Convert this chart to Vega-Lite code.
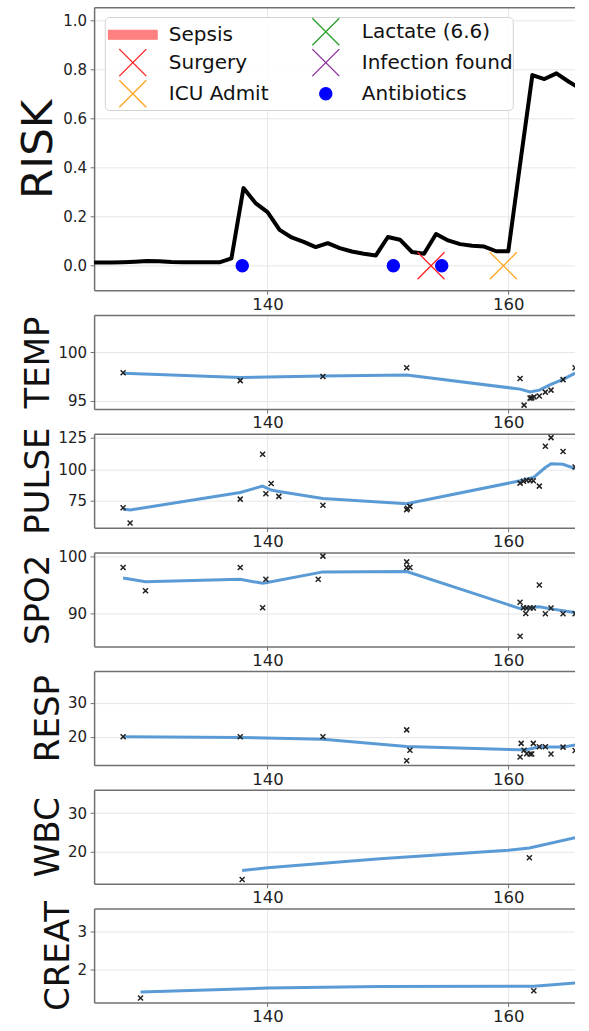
{
  "$schema": "https://vega.github.io/schema/vega-lite/v6.json",
  "padding": {"left": 16.1, "top": 7.3, "right": 0, "bottom": 0},
  "bounds": "flush",
  "spacing": 24.7,
  "config": {
    "view": {"stroke": null},
    "font": "DejaVu Sans",
    "axis": {
      "labelFont": "DejaVu Sans", "titleFont": "DejaVu Sans", "titleFontWeight": "normal",
      "labelColor": "#222222", "titleColor": "#111111",
      "gridColor": "#e6e6e6", "gridWidth": 1,
      "domainColor": "#707070", "domainWidth": 1.5,
      "tickColor": "#707070", "tickSize": 4, "tickWidth": 1
    },
    "axisX": {"labelFontSize": 16.5, "labelPadding": 2},
    "axisY": {"labelFontSize": 15, "labelPadding": 3.5, "titlePadding": 2, "titleFontSize": 34}
  },
  "datasets": {
    "risk": [
      {"t": 125, "v": 0.013}, {"t": 126, "v": 0.013}, {"t": 127, "v": 0.013}, {"t": 128, "v": 0.014},
      {"t": 129, "v": 0.016}, {"t": 130, "v": 0.019}, {"t": 131, "v": 0.018}, {"t": 132, "v": 0.015},
      {"t": 133, "v": 0.014}, {"t": 134, "v": 0.014}, {"t": 135, "v": 0.014}, {"t": 136, "v": 0.014},
      {"t": 137, "v": 0.03}, {"t": 138, "v": 0.316}, {"t": 139, "v": 0.255}, {"t": 140, "v": 0.218},
      {"t": 141, "v": 0.146}, {"t": 142, "v": 0.115}, {"t": 143, "v": 0.097}, {"t": 144, "v": 0.076},
      {"t": 145, "v": 0.092}, {"t": 146, "v": 0.072}, {"t": 147, "v": 0.058}, {"t": 148, "v": 0.049},
      {"t": 149, "v": 0.042}, {"t": 150, "v": 0.117}, {"t": 151, "v": 0.106}, {"t": 152, "v": 0.056},
      {"t": 153, "v": 0.049}, {"t": 154, "v": 0.129}, {"t": 155, "v": 0.103}, {"t": 156, "v": 0.088},
      {"t": 157, "v": 0.081}, {"t": 158, "v": 0.078}, {"t": 159, "v": 0.059}, {"t": 160, "v": 0.059},
      {"t": 161, "v": 0.42}, {"t": 162, "v": 0.776}, {"t": 163, "v": 0.76}, {"t": 164, "v": 0.783},
      {"t": 165, "v": 0.75}, {"t": 166, "v": 0.72}
    ],
    "events": [
      {"t": 137.9, "v": 0, "event": "Antibiotics"},
      {"t": 150.45, "v": 0, "event": "Antibiotics"},
      {"t": 153.58, "v": 0, "event": "Surgery"},
      {"t": 154.47, "v": 0, "event": "Antibiotics"},
      {"t": 159.59, "v": 0, "event": "ICU Admit"}
    ],
    "temp_obs": [
      {"t": 128.0, "v": 97.9}, {"t": 137.73, "v": 97.08}, {"t": 144.6, "v": 97.5}, {"t": 151.56, "v": 98.4},
      {"t": 160.98, "v": 97.3}, {"t": 161.31, "v": 94.55}, {"t": 161.81, "v": 95.27}, {"t": 161.95, "v": 95.3},
      {"t": 162.14, "v": 95.4}, {"t": 162.58, "v": 95.5}, {"t": 163.08, "v": 95.89}, {"t": 163.55, "v": 96.1},
      {"t": 164.55, "v": 97.18}, {"t": 165.55, "v": 98.4}
    ],
    "temp_fit": [
      {"t": 128.0, "v": 97.85}, {"t": 137.73, "v": 97.4}, {"t": 140, "v": 97.45}, {"t": 144.6, "v": 97.55},
      {"t": 151.56, "v": 97.65}, {"t": 160.98, "v": 96.2}, {"t": 161.81, "v": 95.9}, {"t": 162.58, "v": 96.1},
      {"t": 163.08, "v": 96.4}, {"t": 163.55, "v": 96.7}, {"t": 164.55, "v": 97.2}, {"t": 165.55, "v": 97.85}
    ],
    "pulse_obs": [
      {"t": 128.0, "v": 69.5}, {"t": 128.58, "v": 57.4}, {"t": 137.73, "v": 76.3}, {"t": 139.59, "v": 111.8},
      {"t": 139.86, "v": 80.5}, {"t": 140.3, "v": 88.7}, {"t": 140.94, "v": 78.5}, {"t": 144.6, "v": 71.4},
      {"t": 151.56, "v": 67.9}, {"t": 151.62, "v": 69}, {"t": 151.83, "v": 70.6}, {"t": 160.98, "v": 89},
      {"t": 161.26, "v": 90.5}, {"t": 161.53, "v": 91.3}, {"t": 161.81, "v": 91}, {"t": 162.08, "v": 90.8},
      {"t": 162.58, "v": 86.6}, {"t": 163.08, "v": 118.1}, {"t": 163.55, "v": 125}, {"t": 164.55, "v": 114},
      {"t": 165.55, "v": 101.8}
    ],
    "pulse_fit": [
      {"t": 128.0, "v": 68.5}, {"t": 128.58, "v": 67.7}, {"t": 137.73, "v": 81.6}, {"t": 139.59, "v": 86.6},
      {"t": 140.3, "v": 83.5}, {"t": 140.94, "v": 82.4}, {"t": 144.6, "v": 76.9}, {"t": 151.56, "v": 72.6},
      {"t": 160.98, "v": 90.8}, {"t": 162.08, "v": 93.4}, {"t": 163.08, "v": 101.3}, {"t": 163.55, "v": 104.3},
      {"t": 164.55, "v": 103.9}, {"t": 165.55, "v": 100.5}
    ],
    "spo2_obs": [
      {"t": 128.0, "v": 98.07}, {"t": 129.86, "v": 94.0}, {"t": 137.73, "v": 98.07}, {"t": 139.59, "v": 91.05},
      {"t": 139.86, "v": 96.0}, {"t": 144.21, "v": 96.0}, {"t": 144.6, "v": 100.05}, {"t": 151.56, "v": 99.05},
      {"t": 151.56, "v": 98.07}, {"t": 151.83, "v": 98.07}, {"t": 160.98, "v": 92.0}, {"t": 160.98, "v": 86.07},
      {"t": 161.26, "v": 91.05}, {"t": 161.45, "v": 90.05}, {"t": 161.53, "v": 91}, {"t": 161.81, "v": 91},
      {"t": 162.08, "v": 91}, {"t": 162.58, "v": 95.0}, {"t": 163.08, "v": 90}, {"t": 163.55, "v": 91},
      {"t": 164.55, "v": 90}, {"t": 165.55, "v": 90}
    ],
    "spo2_fit": [
      {"t": 128.0, "v": 96.25}, {"t": 129.86, "v": 95.6}, {"t": 137.73, "v": 96.0}, {"t": 139.59, "v": 95.3},
      {"t": 139.86, "v": 95.4}, {"t": 144.6, "v": 97.3}, {"t": 151.56, "v": 97.37}, {"t": 160.98, "v": 90.9},
      {"t": 161.81, "v": 91.1}, {"t": 162.58, "v": 91.2}, {"t": 163.55, "v": 90.85}, {"t": 165.55, "v": 90.2}
    ],
    "resp_obs": [
      {"t": 128.0, "v": 20}, {"t": 137.73, "v": 20}, {"t": 144.6, "v": 20}, {"t": 151.56, "v": 22.03},
      {"t": 151.83, "v": 16.1}, {"t": 151.56, "v": 13.0}, {"t": 160.98, "v": 14.1}, {"t": 161.07, "v": 18.1},
      {"t": 161.31, "v": 16.1}, {"t": 161.53, "v": 15.06}, {"t": 161.81, "v": 15}, {"t": 161.95, "v": 15},
      {"t": 162.08, "v": 18.1}, {"t": 162.58, "v": 17.1}, {"t": 163.08, "v": 17.1}, {"t": 163.55, "v": 15},
      {"t": 164.55, "v": 17}, {"t": 165.55, "v": 16}
    ],
    "resp_fit": [
      {"t": 128.0, "v": 20.0}, {"t": 137.73, "v": 19.8}, {"t": 144.6, "v": 19.3}, {"t": 151.56, "v": 17.2},
      {"t": 160.98, "v": 16.2}, {"t": 161.53, "v": 16.3}, {"t": 162.58, "v": 17.0}, {"t": 164.55, "v": 17.0},
      {"t": 165.55, "v": 17.6}
    ],
    "wbc_obs": [{"t": 137.89, "v": 12.77}, {"t": 161.75, "v": 18.43}],
    "wbc_fit": [
      {"t": 137.89, "v": 15.1}, {"t": 140, "v": 15.8}, {"t": 149.34, "v": 18.17}, {"t": 160, "v": 20.4},
      {"t": 161.75, "v": 20.95}, {"t": 165.55, "v": 23.65}
    ],
    "creat_obs": [{"t": 129.45, "v": 1.23}, {"t": 162.12, "v": 1.42}],
    "creat_fit": [
      {"t": 129.45, "v": 1.39}, {"t": 140, "v": 1.495}, {"t": 149.34, "v": 1.537}, {"t": 162.12, "v": 1.54},
      {"t": 165.55, "v": 1.63}
    ]
  },
  "vconcat": [
    {
      "width": 481, "height": 283,
      "layer": [
        {
          "data": {"name": "risk"},
          "mark": {"type": "line", "color": "#000000", "strokeWidth": 4, "strokeJoin": "round", "clip": true},
          "encoding": {
            "x": {"field": "t", "type": "quantitative", "scale": {"domain": [125.59, 165.55], "nice": false, "zero": false},
                  "axis": {"orient": "bottom", "values": [140, 160], "format": "d", "title": null, "grid": true}},
            "y": {"field": "v", "type": "quantitative", "scale": {"domain": [-0.1, 1.052], "nice": false, "zero": false},
                  "axis": {"orient": "left", "values": [0, 0.2, 0.4, 0.6, 0.8, 1.0], "format": ".1f", "title": "RISK", "titleFontSize": 43.5, "grid": true}}
          }
        },
        {
          "data": {"name": "events"},
          "mark": {"type": "point", "filled": false, "strokeWidth": 1.3, "opacity": 1, "size": 729, "clip": true},
          "encoding": {
            "x": {"field": "t", "type": "quantitative", "scale": {"domain": [125.59, 165.55], "nice": false, "zero": false},
                  "axis": {"orient": "top", "labels": false, "ticks": false, "grid": false, "domain": true, "title": null}},
            "y": {"field": "v", "type": "quantitative", "scale": {"domain": [-0.1, 1.052], "nice": false, "zero": false},
                  "axis": {"orient": "left", "values": [0, 0.2, 0.4, 0.6, 0.8, 1.0], "format": ".1f", "title": "RISK", "titleFontSize": 43.5, "grid": true}},
            "color": {"field": "event", "type": "nominal",
              "scale": {"domain": ["Sepsis", "Surgery", "ICU Admit", "Lactate (6.6)", "Infection found", "Antibiotics"],
                        "range": ["#ff8080", "#ff2020", "#ffa520", "#2ca02c", "#8b2c9b", "#0000ff"]},
              "legend": {
                "orient": "none", "legendX": 10.7, "legendY": 9.7, "columns": 2, "title": null,
                "labelFont": "DejaVu Sans", "labelFontSize": 20, "labelColor": "#111111",
                "symbolSize": 729, "symbolStrokeWidth": 1.3, "symbolOffset": 13.5, "labelOffset": 21.5,
                "rowPadding": -1.9, "columnPadding": 29, "padding": 0,
                "strokeColor": "#d4d4d4", "fillColor": "rgba(255,255,255,0.85)", "cornerRadius": 4,
                "encode": {"symbols": {"update": {"fill": {"scale": "fill", "field": "value"}, "stroke": {"scale": "color", "field": "value"}}}}
              }},
            "fill": {"field": "event", "type": "nominal", "legend": null,
              "scale": {"domain": ["Sepsis", "Surgery", "ICU Admit", "Lactate (6.6)", "Infection found", "Antibiotics"],
                        "range": ["#ff8080", "#ff2020", "#ffa520", "#2ca02c", "#8b2c9b", "#0000ff"]}},
            "shape": {"field": "event", "type": "nominal",
              "scale": {"domain": ["Sepsis", "Surgery", "ICU Admit", "Lactate (6.6)", "Infection found", "Antibiotics"],
                        "range": [
                          "M-1.8,-0.33L1.8,-0.33L1.8,0.33L-1.8,0.33Z",
                          "M-1,-1L1,1M-1,1L1,-1",
                          "M-1,-1L1,1M-1,1L1,-1",
                          "M-1,-1L1,1M-1,1L1,-1",
                          "M-1,-1L1,1M-1,1L1,-1",
                          "M-0.45,0A0.45,0.45,0,1,0,0.45,0A0.45,0.45,0,1,0,-0.45,0Z"
                        ]}}
          }
        }
      ]
    },
    {
      "width": 481, "height": 94,
      "layer": [
        {"data": {"name": "temp_fit"},
         "mark": {"type": "line", "color": "#5b9bd5", "strokeWidth": 3, "clip": true},
         "encoding": {
           "x": {"field": "t", "type": "quantitative", "scale": {"domain": [125.59, 165.55], "nice": false, "zero": false},
                 "axis": {"orient": "bottom", "values": [140, 160], "format": "d", "title": null, "grid": true}},
           "y": {"field": "v", "type": "quantitative", "scale": {"domain": [94.15, 103.85], "nice": false, "zero": false},
                 "axis": {"orient": "left", "values": [95, 100], "title": "TEMP", "grid": true}}}},
        {"data": {"name": "temp_obs"},
         "mark": {"type": "point", "shape": "M-1,-1L1,1M-1,1L1,-1", "size": 25, "filled": false, "color": "#222222", "strokeWidth": 1.5, "opacity": 1, "clip": true},
         "encoding": {
           "x": {"field": "t", "type": "quantitative", "scale": {"domain": [125.59, 165.55], "nice": false, "zero": false},
                 "axis": {"orient": "top", "labels": false, "ticks": false, "grid": false, "domain": true, "title": null}},
           "y": {"field": "v", "type": "quantitative", "scale": {"domain": [94.15, 103.85], "nice": false, "zero": false},
                 "axis": {"orient": "left", "values": [95, 100], "title": "TEMP", "grid": true}}}}
      ]
    },
    {
      "width": 481, "height": 94,
      "layer": [
        {"data": {"name": "pulse_fit"},
         "mark": {"type": "line", "color": "#5b9bd5", "strokeWidth": 3, "clip": true},
         "encoding": {
           "x": {"field": "t", "type": "quantitative", "scale": {"domain": [125.59, 165.55], "nice": false, "zero": false},
                 "axis": {"orient": "bottom", "values": [140, 160], "format": "d", "title": null, "grid": true}},
           "y": {"field": "v", "type": "quantitative", "scale": {"domain": [53.7, 128.1], "nice": false, "zero": false},
                 "axis": {"orient": "left", "values": [75, 100, 125], "title": "PULSE", "grid": true}}}},
        {"data": {"name": "pulse_obs"},
         "mark": {"type": "point", "shape": "M-1,-1L1,1M-1,1L1,-1", "size": 25, "filled": false, "color": "#222222", "strokeWidth": 1.5, "opacity": 1, "clip": true},
         "encoding": {
           "x": {"field": "t", "type": "quantitative", "scale": {"domain": [125.59, 165.55], "nice": false, "zero": false},
                 "axis": {"orient": "top", "labels": false, "ticks": false, "grid": false, "domain": true, "title": null}},
           "y": {"field": "v", "type": "quantitative", "scale": {"domain": [53.7, 128.1], "nice": false, "zero": false},
                 "axis": {"orient": "left", "values": [75, 100, 125], "title": "PULSE", "grid": true}}}}
      ]
    },
    {
      "width": 481, "height": 94,
      "layer": [
        {"data": {"name": "spo2_fit"},
         "mark": {"type": "line", "color": "#5b9bd5", "strokeWidth": 3, "clip": true},
         "encoding": {
           "x": {"field": "t", "type": "quantitative", "scale": {"domain": [125.59, 165.55], "nice": false, "zero": false},
                 "axis": {"orient": "bottom", "values": [140, 160], "format": "d", "title": null, "grid": true}},
           "y": {"field": "v", "type": "quantitative", "scale": {"domain": [84.3, 100.7], "nice": false, "zero": false},
                 "axis": {"orient": "left", "values": [90, 100], "title": "SPO2", "grid": true}}}},
        {"data": {"name": "spo2_obs"},
         "mark": {"type": "point", "shape": "M-1,-1L1,1M-1,1L1,-1", "size": 25, "filled": false, "color": "#222222", "strokeWidth": 1.5, "opacity": 1, "clip": true},
         "encoding": {
           "x": {"field": "t", "type": "quantitative", "scale": {"domain": [125.59, 165.55], "nice": false, "zero": false},
                 "axis": {"orient": "top", "labels": false, "ticks": false, "grid": false, "domain": true, "title": null}},
           "y": {"field": "v", "type": "quantitative", "scale": {"domain": [84.3, 100.7], "nice": false, "zero": false},
                 "axis": {"orient": "left", "values": [90, 100], "title": "SPO2", "grid": true}}}}
      ]
    },
    {
      "width": 481, "height": 94,
      "layer": [
        {"data": {"name": "resp_fit"},
         "mark": {"type": "line", "color": "#5b9bd5", "strokeWidth": 3, "clip": true},
         "encoding": {
           "x": {"field": "t", "type": "quantitative", "scale": {"domain": [125.59, 165.55], "nice": false, "zero": false},
                 "axis": {"orient": "bottom", "values": [140, 160], "format": "d", "title": null, "grid": true}},
           "y": {"field": "v", "type": "quantitative", "scale": {"domain": [11.75, 39.2], "nice": false, "zero": false},
                 "axis": {"orient": "left", "values": [20, 30], "title": "RESP", "grid": true}}}},
        {"data": {"name": "resp_obs"},
         "mark": {"type": "point", "shape": "M-1,-1L1,1M-1,1L1,-1", "size": 25, "filled": false, "color": "#222222", "strokeWidth": 1.5, "opacity": 1, "clip": true},
         "encoding": {
           "x": {"field": "t", "type": "quantitative", "scale": {"domain": [125.59, 165.55], "nice": false, "zero": false},
                 "axis": {"orient": "top", "labels": false, "ticks": false, "grid": false, "domain": true, "title": null}},
           "y": {"field": "v", "type": "quantitative", "scale": {"domain": [11.75, 39.2], "nice": false, "zero": false},
                 "axis": {"orient": "left", "values": [20, 30], "title": "RESP", "grid": true}}}}
      ]
    },
    {
      "width": 481, "height": 94,
      "layer": [
        {"data": {"name": "wbc_fit"},
         "mark": {"type": "line", "color": "#5b9bd5", "strokeWidth": 3, "clip": true},
         "encoding": {
           "x": {"field": "t", "type": "quantitative", "scale": {"domain": [125.59, 165.55], "nice": false, "zero": false},
                 "axis": {"orient": "bottom", "values": [140, 160], "format": "d", "title": null, "grid": true}},
           "y": {"field": "v", "type": "quantitative", "scale": {"domain": [11.65, 36.1], "nice": false, "zero": false},
                 "axis": {"orient": "left", "values": [20, 30], "title": "WBC", "grid": true}}}},
        {"data": {"name": "wbc_obs"},
         "mark": {"type": "point", "shape": "M-1,-1L1,1M-1,1L1,-1", "size": 25, "filled": false, "color": "#222222", "strokeWidth": 1.5, "opacity": 1, "clip": true},
         "encoding": {
           "x": {"field": "t", "type": "quantitative", "scale": {"domain": [125.59, 165.55], "nice": false, "zero": false},
                 "axis": {"orient": "top", "labels": false, "ticks": false, "grid": false, "domain": true, "title": null}},
           "y": {"field": "v", "type": "quantitative", "scale": {"domain": [11.65, 36.1], "nice": false, "zero": false},
                 "axis": {"orient": "left", "values": [20, 30], "title": "WBC", "grid": true}}}}
      ]
    },
    {
      "width": 481, "height": 94,
      "layer": [
        {"data": {"name": "creat_fit"},
         "mark": {"type": "line", "color": "#5b9bd5", "strokeWidth": 3, "clip": true},
         "encoding": {
           "x": {"field": "t", "type": "quantitative", "scale": {"domain": [125.59, 165.55], "nice": false, "zero": false},
                 "axis": {"orient": "bottom", "values": [140, 160], "format": "d", "title": null, "grid": true}},
           "y": {"field": "v", "type": "quantitative", "scale": {"domain": [1.11, 3.61], "nice": false, "zero": false},
                 "axis": {"orient": "left", "values": [2, 3], "format": "d", "title": "CREAT", "grid": true}}}},
        {"data": {"name": "creat_obs"},
         "mark": {"type": "point", "shape": "M-1,-1L1,1M-1,1L1,-1", "size": 25, "filled": false, "color": "#222222", "strokeWidth": 1.5, "opacity": 1, "clip": true},
         "encoding": {
           "x": {"field": "t", "type": "quantitative", "scale": {"domain": [125.59, 165.55], "nice": false, "zero": false},
                 "axis": {"orient": "top", "labels": false, "ticks": false, "grid": false, "domain": true, "title": null}},
           "y": {"field": "v", "type": "quantitative", "scale": {"domain": [1.11, 3.61], "nice": false, "zero": false},
                 "axis": {"orient": "left", "values": [2, 3], "format": "d", "title": "CREAT", "grid": true}}}}
      ]
    }
  ]
}
